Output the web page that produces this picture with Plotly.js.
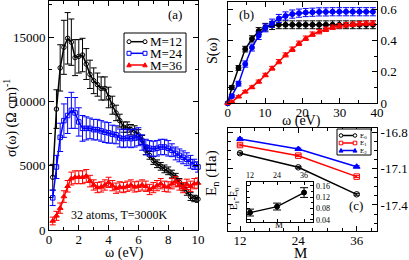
<!DOCTYPE html>
<html><head><meta charset="utf-8">
<script src="https://cdn.plot.ly/plotly-3.0.1.min.js"></script>
<style>html,body{margin:0;padding:0;background:#fff}#chart{width:409px;height:260px}</style>
</head><body><div id="chart"></div>
<script>
// ---------- Panel (a): optical conductivity ----------
const omegaA = [0.25,0.5,0.75,1.0,1.25,1.5,1.75,2.0,2.25,2.5,2.75,3.0,3.25,3.5,3.75,4.0,4.25,4.5,4.75,5.0,
                5.25,5.5,5.75,6.0,6.25,6.5,6.75,7.0,7.25,7.5,7.75,8.0,8.25,8.5,8.75,9.0,9.25,9.5,9.75,10.0];
const sigmaM12 = [4100,9400,12600,14200,14900,14600,13400,13500,13600,12900,12100,11600,11300,11000,11000,10300,9700,9100,8500,8000,
                  8000,7800,7700,7400,7000,6200,5800,5400,5150,4950,4750,4600,4350,4100,3700,3350,3000,2600,2450,2400];
const errM12   = [1000,1500,1800,2100,2000,1800,1400,1300,1300,1200,1100,1000,900,900,900,800,700,600,500,400,
                  400,400,400,400,350,350,300,300,300,300,300,300,300,300,300,300,300,300,250,250];
const sigmaM24 = [2500,4900,7200,8500,8900,9300,9100,8400,7900,7900,7900,7800,7800,7700,7600,7550,7450,7400,7150,7100,
                  7150,7100,7150,7250,6800,6450,6350,6300,6350,6450,6450,6350,6200,5950,5800,5650,5500,5300,5100,4900];
const errM24   = [600,900,1100,1300,1400,1400,1200,1100,1000,900,800,800,800,800,800,800,700,700,700,700,
                  700,700,700,700,600,600,600,600,600,600,600,600,500,500,500,500,500,500,400,400];
const sigmaM36 = [700,1100,1700,2600,3400,4000,4100,4100,4100,4200,3800,3500,3300,3350,3500,3700,3450,3250,3350,3300,
                  3400,3500,3350,3400,3500,3400,3150,3300,3450,3600,3400,3350,3600,3750,3500,3300,3550,3400,3600,3650];
const errM36   = [300,350,400,450,450,500,500,500,500,500,450,400,400,400,400,400,400,400,400,400,
                  400,400,400,400,400,400,400,400,400,400,400,400,400,400,400,400,400,400,400,400];

// ---------- Panel (b): integrated sum S(omega) ----------
const omegaB = [0,1.1,2.9,4.7,6.5,8.3,10.1,11.9,13.7,15.5,17.3,19.1,20.9,22.7,24.5,26.3,28.1,29.9,31.7,33.5,35.3,37.1,38.9];
const sM12 = [0,0.10,0.225,0.345,0.41,0.46,0.485,0.495,0.50,0.50,0.50,0.50,0.50,0.50,0.50,0.50,0.50,0.50,0.50,0.50,0.50,0.50,0.50];
const eS12 = [0,0.012,0.015,0.018,0.02,0.022,0.024,0.025,0.025,0.025,0.025,0.025,0.025,0.025,0.025,0.025,0.025,0.025,0.025,0.025,0.025,0.025,0.025];
const sM24 = [0,0.045,0.125,0.25,0.355,0.43,0.48,0.51,0.54,0.556,0.568,0.574,0.578,0.58,0.582,0.582,0.583,0.583,0.583,0.583,0.583,0.583,0.583];
const eS24 = [0,0.01,0.015,0.02,0.022,0.024,0.025,0.026,0.026,0.026,0.026,0.026,0.026,0.026,0.026,0.026,0.026,0.026,0.026,0.026,0.026,0.026,0.026];
const sM36 = [0,0.01,0.042,0.074,0.102,0.138,0.18,0.223,0.265,0.308,0.344,0.382,0.414,0.44,0.456,0.471,0.484,0.492,0.499,0.503,0.507,0.51,0.511];
const eS36 = [0,0.004,0.006,0.008,0.009,0.01,0.011,0.012,0.013,0.013,0.014,0.014,0.014,0.014,0.014,0.014,0.014,0.014,0.014,0.014,0.014,0.014,0.014];

// ---------- Panel (c): energies vs M ----------
const Mvals = [12,24,36];
const E0 = [-16.973,-17.089,-17.312];
const E1 = [-16.905,-16.993,-17.166];
const E2 = [-16.855,-16.938,-17.084];
const eE = [0.008,0.008,0.008];
// inset
const gapVals = [0.066,0.087,0.136];
const gapErr  = [0.012,0.012,0.017];

// tick labels
const tickC = [-16.8,-17.1,-17.4];
const tickCtext = ['-16.8','-17.1','-17.4'];
const tickInsetY = [0.04,0.08,0.12,0.16];
const tickInsetX = [12,24,36];

// ---------- geometry helpers (pixels -> paper) ----------
const W = 409, H = 260;
const P = x => x / W;
const Q = y => 1 - y / H;
const FONT = 'Liberation Serif, Times New Roman, serif';

const ax = {showline:true, linecolor:'black', linewidth:1, mirror:'allticks', ticks:'inside', ticklen:5,
            tickwidth:1, tickcolor:'black', showgrid:false, zeroline:false, tickfont:{size:13, family:FONT, color:'black'}};
function minor(d){ return {ticks:'inside', ticklen:3, tickcolor:'black', dtick:d, showgrid:false}; }

const BLACK='#000000', BLUE='#0000ff', RED='#ff0000';

function tr(x,y,e,color,symbol,xa,ya,size,lw,cap){
  return {x:x, y:y, xaxis:xa, yaxis:ya, type:'scatter', mode:'lines+markers',
    line:{color:color, width:lw},
    marker:{symbol:symbol, size:size, color:color, line:{color:color, width:1}},
    error_y:{type:'data', array:e, visible:true, color:color, thickness:1, width:cap},
    cliponaxis:false, hoverinfo:'skip'};
}

const data = [
  tr(omegaA, sigmaM12, errM12, BLACK, 'circle-open', 'x','y', 4.5, 1.5, 3),
  tr(omegaA, sigmaM24, errM24, BLUE, 'square-open', 'x','y', 4.5, 1.5, 3),
  tr(omegaA, sigmaM36, errM36, RED, 'triangle-up', 'x','y', 5, 1.5, 3),
  tr(omegaB, sM12, eS12, BLACK, 'circle', 'x2','y2', 5, 1.5, 3),
  tr(omegaB, sM24, eS24, BLUE, 'circle', 'x2','y2', 5, 1.5, 3),
  tr(omegaB, sM36, eS36, RED, 'triangle-up', 'x2','y2', 5, 1.5, 3),
  tr(Mvals, E0, eE, BLACK, 'circle-open', 'x3','y3', 5.5, 1.5, 3),
  tr(Mvals, E1, eE, RED, 'square-open', 'x3','y3', 5.5, 1.5, 3),
  tr(Mvals, E2, eE, BLUE, 'triangle-up', 'x3','y3', 6, 1.5, 3),
  tr(Mvals, gapVals, gapErr, BLACK, 'circle', 'x4','y4', 5, 1.3, 4)
];

// ---------- custom legends (Grace style: marker at both ends of the line sample) ----------
const shapes = [];
const annotations = [];
function markerShape(symbol, cx, cy, r, color){
  if(symbol==='circle'){
    shapes.push({type:'circle', xref:'paper', yref:'paper', x0:P(cx-r), x1:P(cx+r), y0:Q(cy+r), y1:Q(cy-r),
                 line:{color:color, width:1}, fillcolor:'white'});
  } else if(symbol==='square'){
    shapes.push({type:'rect', xref:'paper', yref:'paper', x0:P(cx-r), x1:P(cx+r), y0:Q(cy+r), y1:Q(cy-r),
                 line:{color:color, width:1}, fillcolor:'white'});
  } else {
    const p = `M ${P(cx-r*1.1)} ${Q(cy+r*0.9)} L ${P(cx+r*1.1)} ${Q(cy+r*0.9)} L ${P(cx)} ${Q(cy-r*1.1)} Z`;
    shapes.push({type:'path', xref:'paper', yref:'paper', path:p, line:{color:color, width:1}, fillcolor:color});
  }
}
function legendBox(x0,y0,x1,y1){
  shapes.push({type:'rect', xref:'paper', yref:'paper', x0:P(x0), x1:P(x1), y0:Q(y1), y1:Q(y0),
               line:{color:'black', width:1}, fillcolor:'white', layer:'above'});
}
function legendEntry(y, lx0, lx1, color, symbol, r, text, tx, fs){
  shapes.push({type:'line', xref:'paper', yref:'paper', x0:P(lx0), x1:P(lx1), y0:Q(y), y1:Q(y), line:{color:color, width:1.5}});
  markerShape(symbol, lx0, y, r, color);
  markerShape(symbol, lx1, y, r, color);
  annotations.push({xref:'paper', yref:'paper', x:P(tx), y:Q(y), xanchor:'left', yanchor:'middle', showarrow:false,
                    text:text, font:{family:FONT, size:fs, color:'black'}});
}
// legend (a)
legendBox(124,33,186,72);
legendEntry(41.7,129,145,BLACK,'circle',2,'M=12',148,13);
legendEntry(53.3,129,145,BLUE,'square',2,'M=24',148,13);
legendEntry(65,129,145,RED,'triangle',2,'M=36',148,13);
// legend (c)
legendBox(337,129,371,155);
legendEntry(135.5,341,355,BLACK,'circle',1.8,'E<sub>0</sub>',358,7);
legendEntry(143,341,355,RED,'square',1.8,'E<sub>1</sub>',358,7);
legendEntry(150.5,341,355,BLUE,'triangle',1.8,'E<sub>2</sub>',358,7);

// ---------- text annotations ----------
function txt(x,y,text,size,angle){
  annotations.push({xref:'paper', yref:'paper', x:P(x), y:Q(y), xanchor:'center', yanchor:'middle', showarrow:false,
                    text:text, textangle:angle||0, font:{family:FONT, size:size, color:'black'}});
}
txt(175,14,'(a)',13);
txt(119,215,'32 atoms, T=3000K',12);
txt(11,118,'σ(ω) (Ω cm)<sup>-1</sup>',14,-90);
txt(124,253,'ω (eV)',14);
txt(247,14,'(b)',13);
txt(213,51,'S(ω)',14,-90);
txt(301,121,'ω (eV)',14);
txt(356,205,'(c)',13);
txt(212,173,'E<sub>n</sub> (Ha)',15,-90);
txt(300,253,'M',15);
txt(234,199,'E<sub>1</sub>-E<sub>0</sub>',10,-90);
txt(279,225,'M',9);

const layout = {
  width:W, height:H, margin:{l:0,r:0,t:0,b:0}, showlegend:false,
  paper_bgcolor:'white', plot_bgcolor:'white',
  font:{family:FONT, size:13, color:'black'},
  xaxis: Object.assign({}, ax, {domain:[P(49),P(198)], range:[0,10], anchor:'y', dtick:2, tick0:0, ticklabelstandoff:-3, minor:minor(1)}),
  yaxis: Object.assign({}, ax, {domain:[Q(230),Q(1)], range:[0,17800], anchor:'x', dtick:5000, tick0:0, tickformat:'d', minor:minor(2500)}),
  xaxis2: Object.assign({}, ax, {domain:[P(227.7),P(377)], range:[0,40], anchor:'y2', dtick:10, tick0:0, ticklabelstandoff:-3, minor:minor(5)}),
  yaxis2: Object.assign({}, ax, {domain:[Q(103.3),Q(2)], range:[0,0.645], anchor:'x2', side:'right', dtick:0.2, tick0:0, minor:minor(0.1)}),
  xaxis3: Object.assign({}, ax, {domain:[P(227.7),P(377)], range:[9.47,40.18], anchor:'y3', tickmode:'array', tickvals:Mvals, ticklabelstandoff:-3, minor:Object.assign(minor(3),{tick0:12})}),
  yaxis3: Object.assign({}, ax, {domain:[Q(231),Q(127.7)], range:[-17.615,-16.762], anchor:'x3', side:'right', tickmode:'array', tickvals:tickC, ticktext:tickCtext, minor:Object.assign(minor(0.075),{tick0:-16.8})}),
  xaxis4: Object.assign({}, ax, {domain:[P(246.7),P(313.3)], range:[10.5,40.1], anchor:'y4', side:'top', ticklen:3, tickmode:'array', tickvals:tickInsetX, tickfont:{size:8,family:FONT,color:'#000000'}, minor:Object.assign(minor(6),{ticklen:2, tick0:12})}),
  yaxis4: Object.assign({}, ax, {domain:[Q(221.7),Q(181.7)], range:[0.034,0.174], anchor:'x4', side:'right', ticklen:3, tickmode:'array', tickvals:tickInsetY, tickfont:{size:8,family:FONT,color:'#000000'}, minor:Object.assign(minor(0.02),{ticklen:2, tick0:0.04})}),
  shapes:shapes, annotations:annotations
};

Plotly.newPlot('chart', data, layout, {displayModeBar:false, staticPlot:true});
</script>
</body></html>
